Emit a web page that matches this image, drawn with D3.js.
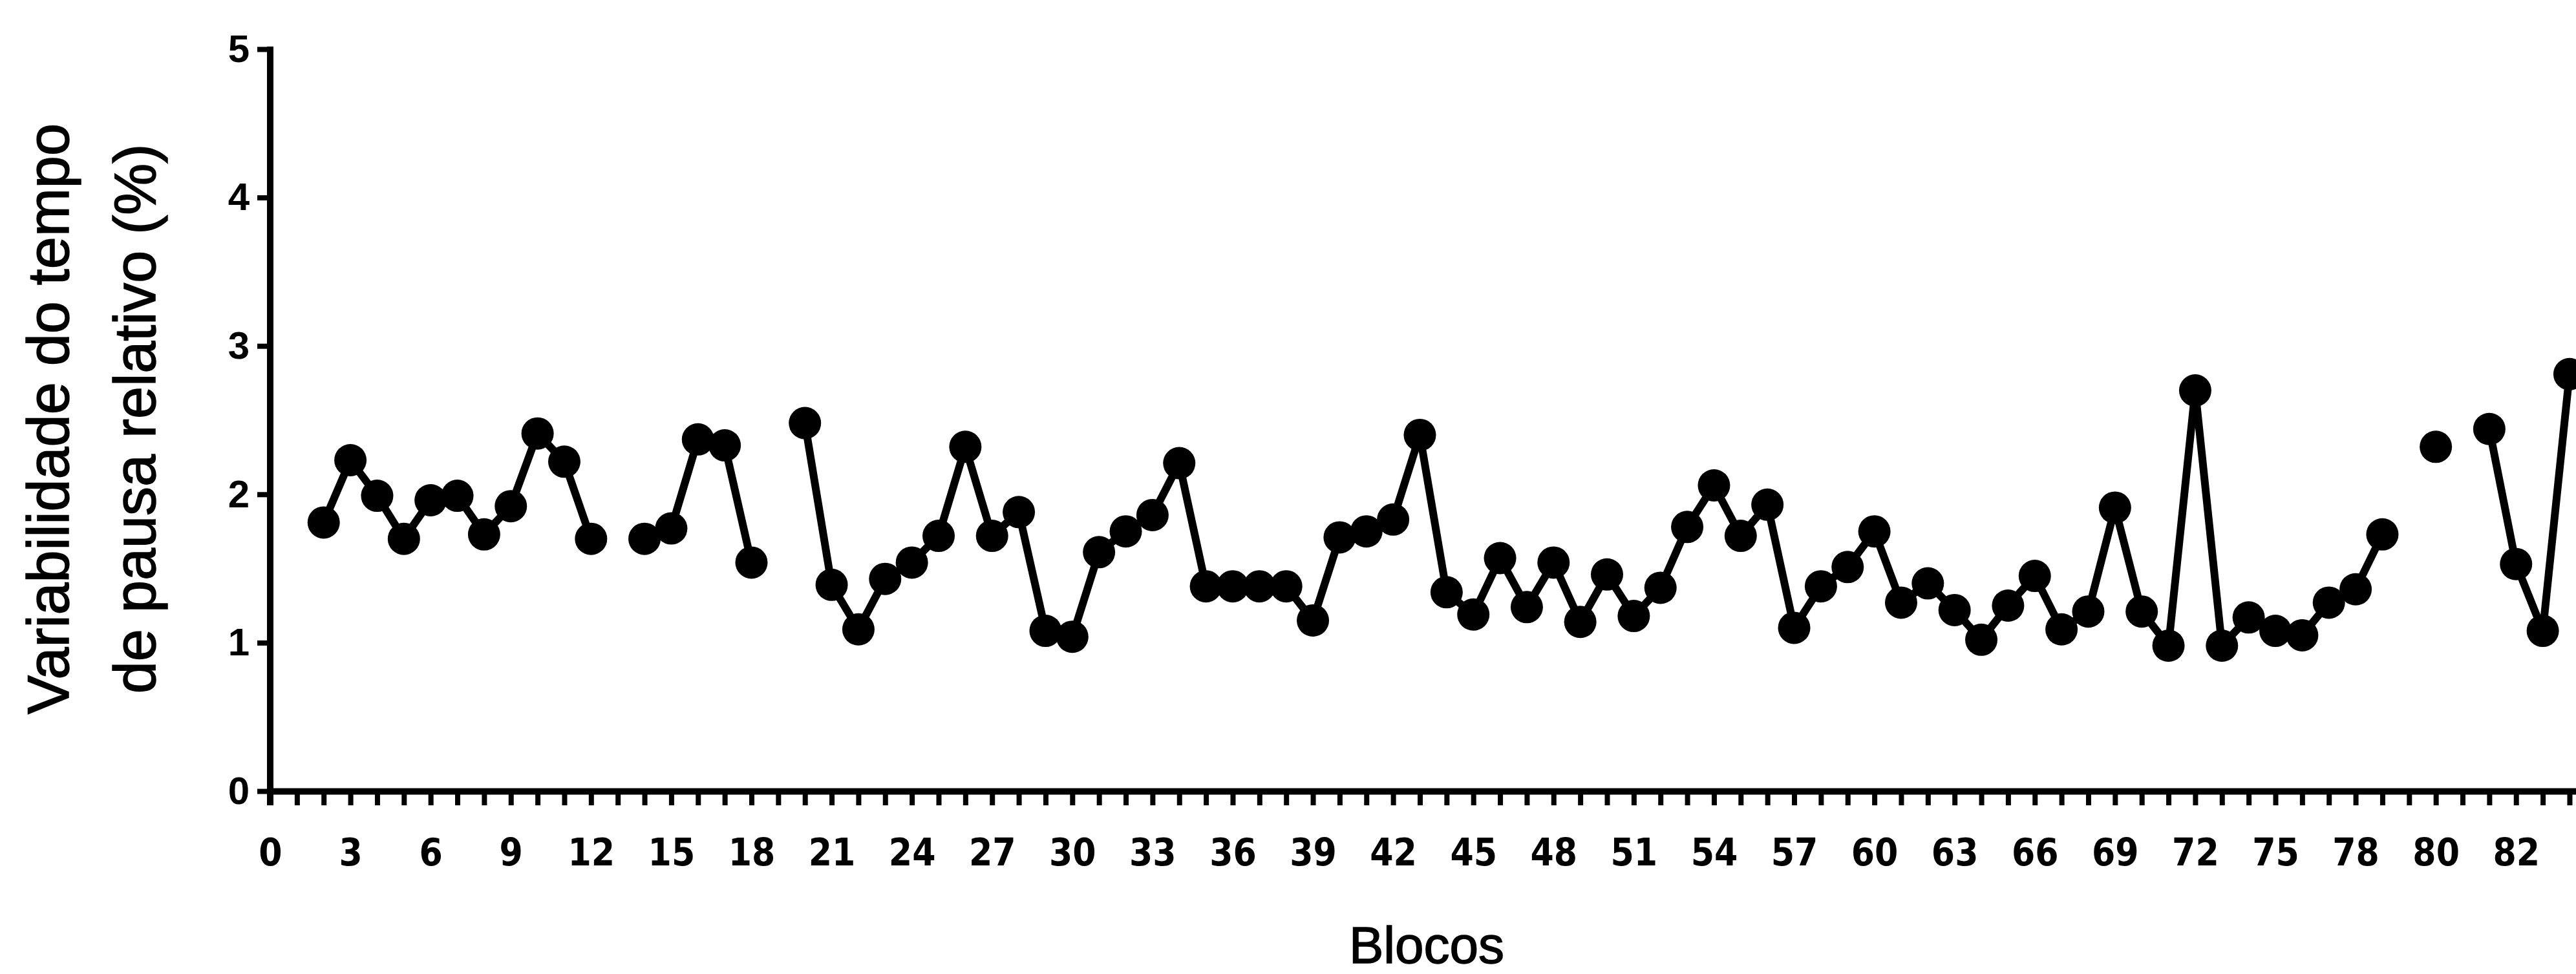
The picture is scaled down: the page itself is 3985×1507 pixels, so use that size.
<!DOCTYPE html>
<html>
<head>
<meta charset="utf-8">
<script src="https://cdn.jsdelivr.net/npm/d3@7"></script>
<style>
	body { margin: 0; background: #fff; }
	svg { display: block; }
</style>
</head>
<body>
<div id="chart_area"></div>
<script>

//the data, one value per block (null = no point)
var sBlocks = [2,3,4,5,6,7,8,9,10,11,12,13,14,15,16,17,18,19,20,21,22,23,24,25,26,27,28,29,30,
	31,32,33,34,35,36,37,38,39,40,41,42,43,44,45,46,47,48,49,50,51,52,53,54,55,56,57,58,59,60,
	61,62,63,64,65,66,67,68,69,70,71,72,73,74,75,76,77,78,79,80,81,82,83,84,85,86];
var sValues = [1.81,2.23,1.99,1.70,1.96,1.99,1.73,1.92,2.41,2.22,1.70,null,1.70,1.77,2.37,2.33,1.54,null,
	2.48,1.39,1.09,1.43,1.54,1.72,2.32,1.72,1.88,1.08,1.04,1.61,1.75,1.86,2.21,1.38,1.38,1.38,1.38,1.15,
	1.71,1.75,1.83,2.40,1.34,1.19,1.57,1.24,1.54,1.14,1.46,1.18,1.37,1.78,2.06,1.72,1.93,1.10,1.38,1.51,
	1.75,1.27,1.40,1.22,1.02,1.25,1.45,1.09,1.21,1.91,1.21,0.98,2.70,0.98,1.17,1.08,1.05,1.27,1.36,1.73,
	null,2.32,null,2.44,1.53,1.08,2.81];

//tick labels (the last two sit on blocks 81 and 84)
var sXTickPos = [0,3,6,9,12,15,18,21,24,27,30,33,36,39,42,45,48,51,54,57,60,63,66,69,72,75,78,81,84];
var sXTickText = ["0","3","6","9","12","15","18","21","24","27","30","33","36","39","42","45","48","51",
	"54","57","60","63","66","69","72","75","78","80","82"];
var sYTicks = [0,1,2,3,4,5];

var sPoints = sBlocks.map(function(b, i){ return {x : b, y : sValues[i]}; });

//get the area
var sFrameWidth = 3985;
var sFrameHeight = 1507;

var sFrame = d3.select("#chart_area").append("svg")
	.attr("width", sFrameWidth)
	.attr("height", sFrameHeight);

sFrame.append("rect").attr("width", sFrameWidth).attr("height", sFrameHeight).attr("fill", "#fff");

//scales
var sX = d3.scaleLinear().domain([0, 87]).range([418, 418 + 87 * 41.36]);
var sY = d3.scaleLinear().domain([0, 5]).range([1224, 76]);

//x axis: small tick at every block
var sXAxis = sFrame.append("g")
	.attr("transform", "translate(0," + sY(0) + ")")
	.call(d3.axisBottom(sX).tickValues(d3.range(0, 88)).tickSize(22).tickSizeOuter(0).tickFormat(""));
sXAxis.select(".domain").attr("stroke", "#000").attr("stroke-width", 10);
sXAxis.selectAll(".tick line").attr("stroke", "#000").attr("stroke-width", 8);

//x labels
var sXLabels = sFrame.append("g")
	.attr("transform", "translate(0," + sY(0) + ")")
	.call(d3.axisBottom(sX).tickValues(sXTickPos).tickSize(0).tickPadding(74)
		.tickFormat(function(d, i){ return sXTickText[i]; }));
sXLabels.select(".domain").remove();
sXLabels.selectAll("text")
	.attr("font-family", "'Liberation Sans Narrow', 'Arial Narrow', 'DejaVu Sans Condensed', sans-serif")
	.attr("font-weight", "bold")
	.attr("font-size", 58)
	.attr("fill", "#000");

//y axis
var sYAxis = sFrame.append("g")
	.attr("transform", "translate(" + sX(0) + ",0)")
	.call(d3.axisLeft(sY).tickValues(sYTicks).tickSize(20).tickSizeOuter(0).tickPadding(12)
		.tickFormat(d3.format("d")));
sYAxis.select(".domain").attr("stroke", "#000").attr("stroke-width", 10)
	.attr("d", "M0," + (sY(5) - 4) + "V" + (sY(0) + 22));
sYAxis.selectAll(".tick line").attr("stroke", "#000").attr("stroke-width", 8);
sYAxis.selectAll("text")
	.attr("font-family", "'Liberation Sans', Arial, sans-serif")
	.attr("font-weight", "bold")
	.attr("font-size", 60)
	.attr("fill", "#000");

//the line, broken where blocks are missing
var sLine = d3.line()
	.defined(function(d){ return d.y !== null; })
	.x(function(d){ return sX(d.x); })
	.y(function(d){ return sY(d.y); });

sFrame.append("path")
	.datum(sPoints)
	.attr("d", sLine)
	.attr("fill", "none")
	.attr("stroke", "#000")
	.attr("stroke-width", 12)
	.attr("stroke-linejoin", "round");

//the dots
sFrame.append("g").selectAll("circle")
	.data(sPoints.filter(function(d){ return d.y !== null; }))
	.join("circle")
	.attr("cx", function(d){ return sX(d.x); })
	.attr("cy", function(d){ return sY(d.y); })
	.attr("r", 25)
	.attr("fill", "#000");

//axis titles
var sTitleFont = "'Liberation Sans', Arial, sans-serif";

var sYTitle = sFrame.append("text")
	.attr("transform", "translate(0,648) rotate(-90)")
	.attr("text-anchor", "middle")
	.attr("font-family", sTitleFont)
	.attr("font-size", 90)
	.attr("stroke", "#000")
	.attr("stroke-width", 1.5)
	.attr("fill", "#000");
sYTitle.append("tspan").attr("x", 0).attr("y", 106).text("Variabilidade do tempo");
sYTitle.append("tspan").attr("x", 0).attr("y", 240).text("de pausa relativo (%)");

sFrame.append("text")
	.attr("x", 2207)
	.attr("y", 1490)
	.attr("text-anchor", "middle")
	.attr("font-family", sTitleFont)
	.attr("font-size", 80)
	.attr("stroke", "#000")
	.attr("stroke-width", 1.5)
	.attr("fill", "#000")
	.text("Blocos");

</script>
</body>
</html>
